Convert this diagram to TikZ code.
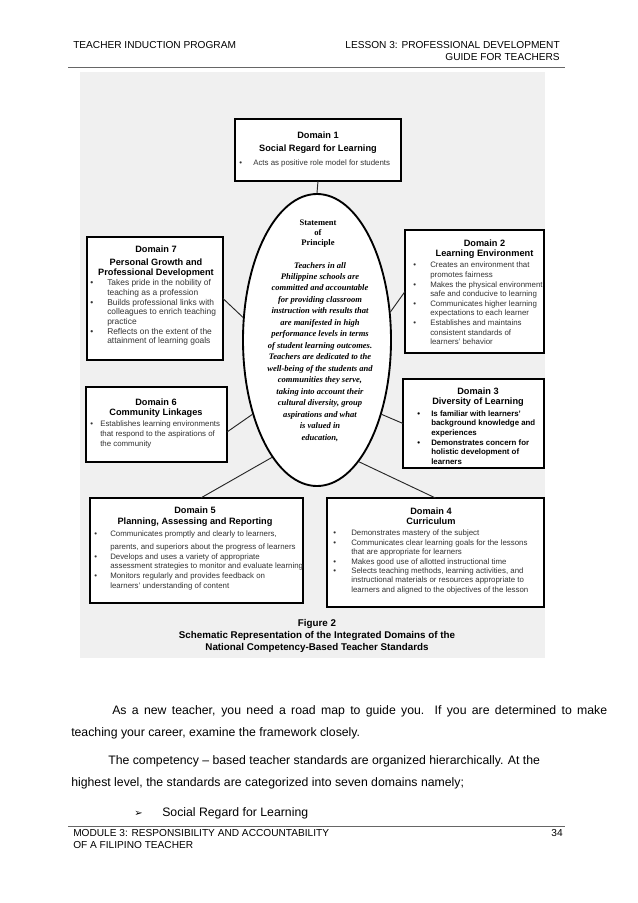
\documentclass[tikz,border=0pt]{standalone}
\usepackage{fontspec}
\setmainfont{Liberation Sans}
\newfontfamily\tnr{Liberation Serif}
\newfontfamily\dejavu{DejaVu Sans}
\usetikzlibrary{shapes.geometric,calc}
\newlength\bw
\newcommand\B{\makebox[\bw][l]{\textbullet}}
\begin{document}
\begin{tikzpicture}[x=0.75pt,y=-0.75pt,
  dbox/.style={draw=black, line width=1.1pt, fill=white, inner sep=0, outer sep=0, anchor=north west},
  ttl/.style={anchor=base, inner sep=0, font=\fontsize{6.9}{9.5}\selectfont\bfseries},
  bul/.style={anchor=base west, inner sep=0, text=black!80, font=\fontsize{5.9}{7.2}\selectfont},
  link/.style={draw=black!85, line width=0.7pt},
  hdr/.style={inner sep=0, font=\fontsize{7.6}{9.5}\selectfont},
  body/.style={anchor=base west, inner sep=0, font=\fontsize{9.2}{11}\selectfont},
  figcap/.style={anchor=base, inner sep=0, font=\fontsize{7.35}{8.8}\selectfont\bfseries},
  elltext/.style={anchor=base, inner sep=0}]
\useasboundingbox (0,0) rectangle (638,903);
% header
\node[hdr, anchor=base west] (h1) at (73,48.5) {TEACHER INDUCTION PROGRAM};
\node[hdr, anchor=base east] (h2) at (560,48.5) {LESSON 3: PROFESSIONAL DEVELOPMENT};
\node[hdr, anchor=base east] (h3) at (560,60.5) {GUIDE FOR TEACHERS};
\draw[black!60, line width=0.6pt] (68,67) -- (565,67);
% scanned figure background
\fill[black!6] (80,72) rectangle (545,658);
% ellipse
\node[draw, ellipse, line width=1.4pt, fill=white, minimum width=111pt, minimum height=219pt, inner sep=0] (ell) at (317,340) {};
\node[elltext, font=\tnr\fontsize{6.4}{7.5}\selectfont\bfseries] (st) at (318,225) {\begin{tabular}[t]{@{}c@{}}Statement\\of\\Principle\end{tabular}};
\node[elltext, font=\tnr\fontsize{6.4}{8.6}\selectfont\bfseries\itshape] (pr) at (320,268) {\begin{tabular}[t]{@{}c@{}}Teachers in all\\Philippine schools are\\committed and accountable\\for providing classroom\\instruction with results that\\are manifested in high\\performance levels in terms\\of student learning outcomes.\\Teachers are dedicated to the\\well-being of the students and\\communities they serve,\\taking into account their\\cultural diversity, group\\aspirations and what\\is valued in\\education,\end{tabular}};
% Domain 1
\node[dbox, minimum width=124.5pt, minimum height=46.5pt] (d1) at (235,119) {};
\node[ttl] (d1t) at (318,138.5) {\begin{tabular}[t]{@{}c@{}}Domain 1\\[0.5pt]Social Regard for Learning\end{tabular}};
\node[bul] (d1b) at (239,165) {\setlength\bw{10.5pt}\begin{tabular}[t]{@{}l@{}l@{}}\B&Acts as positive role model for students\end{tabular}};
% Domain 7
\node[dbox, minimum width=102pt, minimum height=92.25pt] (d7) at (87,237) {};
\node[ttl] (d7t) at (156,252.3) {\begin{tabular}[t]{@{}c@{}}Domain 7\\[0.3pt]Personal Growth and\\[-2pt]Professional Development\end{tabular}};
\node[bul, font=\fontsize{6.3}{7.25}\selectfont] (d7b) at (90,285.8) {\setlength\bw{12.75pt}\begin{tabular}[t]{@{}l@{}l@{}}\B&Takes pride in the nobility of\\&teaching as a profession\\\B&Builds professional links with\\&colleagues to enrich teaching\\&practice\\\B&Reflects on the extent of the\\&attainment of learning goals\end{tabular}};
% Domain 2
\node[dbox, minimum width=104.25pt, minimum height=92.25pt] (d2) at (405,230) {};
\node[ttl] (d2t) at (484.5,246.3) {\begin{tabular}[t]{@{}c@{}}Domain 2\\[-2pt]Learning Environment\end{tabular}};
\node[bul] (d2b) at (413,267.8) {\setlength\bw{12.75pt}\begin{tabular}[t]{@{}l@{}l@{}}\B&Creates an environment that\\&promotes fairness\\\B&Makes the physical environment\\&safe and conducive to learning\\\B&Communicates higher learning\\&expectations to each learner\\\B&Establishes and maintains\\&consistent standards of\\&learners' behavior\end{tabular}};
% Domain 6
\node[dbox, minimum width=105.75pt, minimum height=56.25pt] (d6) at (86,387) {};
\node[ttl] (d6t) at (156,405.3) {\begin{tabular}[t]{@{}c@{}}Domain 6\\[-1.5pt]Community Linkages\end{tabular}};
\node[bul, font=\fontsize{5.9}{7.5}\selectfont] (d6b) at (90,426) {\setlength\bw{7.5pt}\begin{tabular}[t]{@{}l@{}l@{}}\B&Establishes learning environments\\&that respond to the aspirations of\\&the community\end{tabular}};
% Domain 3
\node[dbox, minimum width=105.75pt, minimum height=66.75pt] (d3) at (403,379) {};
\node[ttl] (d3t) at (478,394.3) {\begin{tabular}[t]{@{}c@{}}Domain 3\\[-2pt]Diversity of Learning\end{tabular}};
\node[bul, text=black, font=\fontsize{5.9}{7.3}\selectfont\bfseries] (d3b) at (417,416) {\setlength\bw{10.5pt}\begin{tabular}[t]{@{}l@{}l@{}}\B&Is familiar with learners'\\&background knowledge and\\&experiences\\\B&Demonstrates concern for\\&holistic development of\\&learners\end{tabular}};
% Domain 5
\node[dbox, minimum width=159.75pt, minimum height=78.75pt] (d5) at (90,498) {};
\node[ttl] (d5t) at (195,513.3) {\begin{tabular}[t]{@{}c@{}}Domain 5\\[-1pt]Planning, Assessing and Reporting\end{tabular}};
\node[bul] (d5b) at (94,536) {\setlength\bw{12pt}\begin{tabular}[t]{@{}l@{}l@{}}\B&Communicates promptly and clearly to learners,\\[3pt]&parents, and superiors about the progress of learners\\\B&Develops and uses a variety of appropriate\\&assessment strategies to monitor and evaluate learning\\\B&Monitors regularly and provides feedback on\\&learners' understanding of content\end{tabular}};
% Domain 4
\node[dbox, minimum width=162.75pt, minimum height=81.75pt] (d4) at (327,498) {};
\node[ttl] (d4t) at (431,514.3) {\begin{tabular}[t]{@{}c@{}}Domain 4\\[-2pt]Curriculum\end{tabular}};
\node[bul, font=\fontsize{5.9}{7.05}\selectfont] (d4b) at (333,535.8) {\setlength\bw{13.5pt}\begin{tabular}[t]{@{}l@{}l@{}}\B&Demonstrates mastery of the subject\\\B&Communicates clear learning goals for the lessons\\&that are appropriate for learners\\\B&Makes good use of allotted instructional time\\\B&Selects teaching methods, learning activities, and\\&instructional materials or resources appropriate to\\&learners and aligned to the objectives of the lesson\end{tabular}};
% connectors
\draw[link] (d1.south) -- (ell.north);
\draw[link] (d7.east) -- (ell.163.4);
\draw[link] (d2.west) -- (ell.21.7);
\draw[link] ($(d6.north east)!0.6!(d6.south east)$) -- (ell.229.3);
\draw[link] (d3.west) -- (ell.311.2);
\draw[link] ($(d5.north west)!0.52!(d5.north east)$) -- (ell.249.4);
\draw[link] (d4.north) -- (ell.289.6);
% caption
\node[figcap] (fig) at (317,626) {\begin{tabular}[t]{@{}c@{}}Figure 2\\[0.8pt]Schematic Representation of the Integrated Domains of the\\National Competency-Based Teacher Standards\end{tabular}};
% body text
\node[body] (p1) at (112,714) {\makebox[371.25pt][s]{As a new teacher, you need a road map to guide you. If you are determined to make}};
\node[body] (p2) at (71,736) {teaching your career, examine the framework closely.};
\node[body] (p3) at (108,764) {The competency -- based teacher standards are organized hierarchically. At the};
\node[body] (p4) at (71,786) {highest level, the standards are categorized into seven domains namely;};
\node[body] (p5) at (134,816) {\makebox[21pt][l]{\dejavu\fontsize{7.5}{9}\selectfont ➢}Social Regard for Learning};
% footer
\draw[black!60, line width=0.6pt] (68,826) -- (565,826);
\node[hdr, anchor=base west] (f1) at (73,836.5) {MODULE 3: RESPONSIBILITY AND ACCOUNTABILITY};
\node[hdr, anchor=base west] (f2) at (73,848.5) {OF A FILIPINO TEACHER};
\node[hdr, anchor=base east] (f3) at (563,836.5) {34};
\end{tikzpicture}
\end{document}
